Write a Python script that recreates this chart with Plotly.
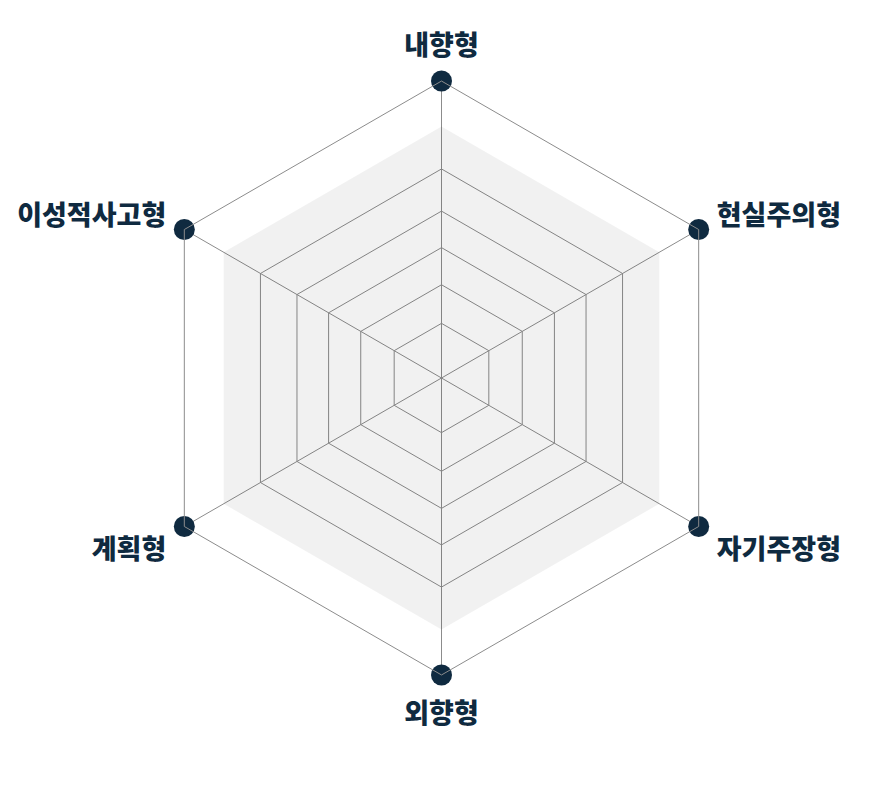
import plotly.graph_objects as go

categories = ["내향형", "현실주의형", "자기주장형", "외향형", "계획형", "이성적사고형"]
outer_values = [100, 100, 100, 100, 100, 100]
band_values = [84.7, 84.7, 84.7, 84.7, 84.7, 84.7]
grid_levels = [18.4, 31.4, 43.9, 56.2, 70.4]

navy = "#0f2a40"
grid = "#8c8c8c"

fig = go.Figure()
fig.add_trace(go.Scatterpolar(
    r=band_values, theta=categories, mode="lines", fill="toself",
    fillcolor="rgba(0,0,0,0.055)", line=dict(width=0, color="rgba(0,0,0,0)"),
    hoverinfo="skip", showlegend=False,
))
fig.add_trace(go.Scatterpolar(
    r=outer_values, theta=categories, mode="markers",
    marker=dict(size=21, color=navy), showlegend=False,
))

fig.update_layout(
    width=876, height=788,
    margin=dict(l=0, r=0, t=0, b=0),
    paper_bgcolor="white",
    showlegend=False,
    polar=dict(
        domain=dict(x=[0.165, 0.843], y=[0.1434, 0.8972]),
        bgcolor="white",
        gridshape="linear",
        radialaxis=dict(
            range=[0, 100], tickvals=grid_levels, showticklabels=False,
            ticks="", showline=False, gridcolor=grid, gridwidth=1,
            layer="above traces",
        ),
        angularaxis=dict(
            direction="clockwise", rotation=90,
            linecolor=grid, linewidth=1, gridcolor=grid, gridwidth=1,
            ticks="outside", ticklen=15, tickcolor="rgba(0,0,0,0)",
            tickfont=dict(family="Noto Sans CJK KR", size=27, color=navy, weight=900),
        ),
    ),
)

fig.write_html("out.html")
